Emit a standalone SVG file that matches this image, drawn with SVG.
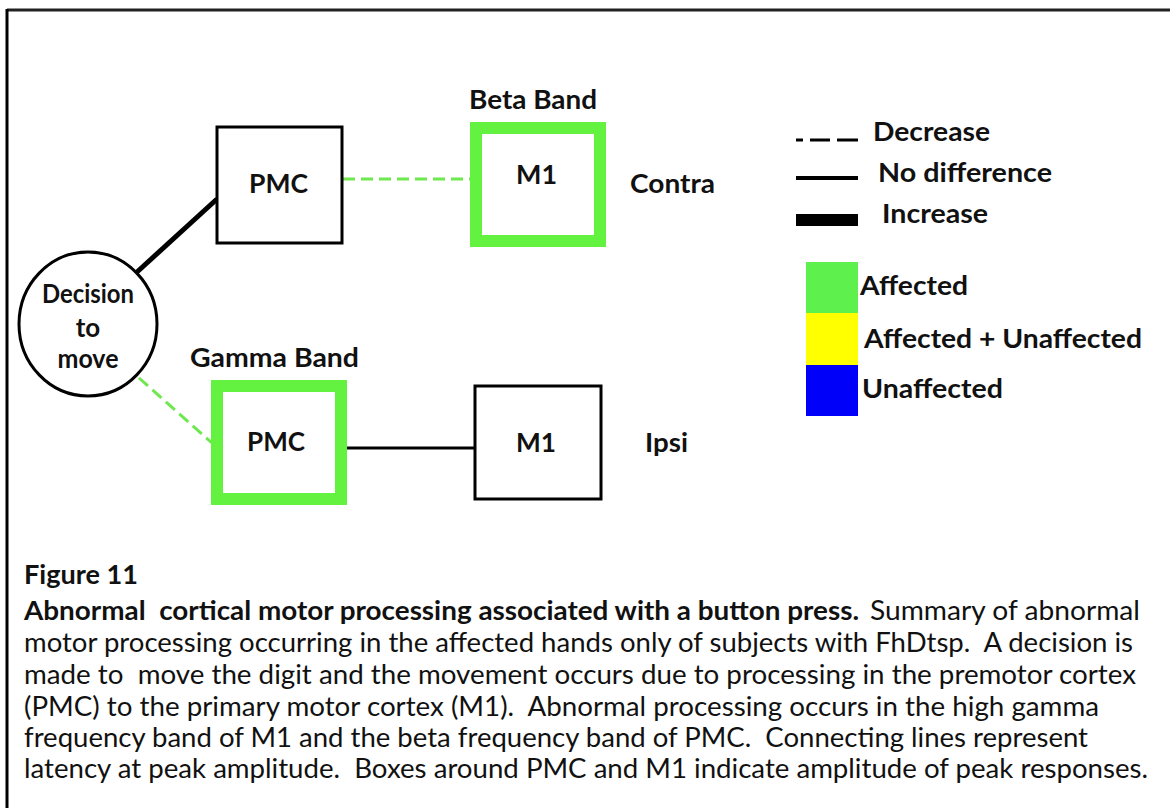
<svg xmlns="http://www.w3.org/2000/svg" width="1170" height="808" viewBox="0 0 1170 808">
<defs>
<style>
.lbl{font-family:Lato,"Liberation Sans",sans-serif;font-weight:bold;font-size:26px;fill:#111;}
.cap{font-family:Lato,"Liberation Sans",sans-serif;font-size:26px;fill:#111;white-space:pre;}
.capb{font-family:Lato,"Liberation Sans",sans-serif;font-size:26px;font-weight:bold;fill:#111;white-space:pre;}
.box{fill:#fff;stroke:#000;stroke-width:3;}
.gbox{fill:#fff;stroke:#63F23F;stroke-width:12;}
.dash{stroke:#6FE84F;stroke-width:3;stroke-dasharray:12 6;fill:none;}
.solid{stroke:#000;stroke-width:3;fill:none;}
</style>
</defs>
<rect x="0" y="0" width="1170" height="808" fill="#fff"/>
<g id="frame">
<line x1="7" y1="10" x2="1170" y2="10" stroke="#222" stroke-width="3"/>
<line x1="7" y1="9" x2="7" y2="808" stroke="#000" stroke-width="3"/>
</g>
<g id="connectors">
<line x1="137" y1="272" x2="217" y2="199" stroke="#000" stroke-width="5"/>
<line class="dash" x1="343" y1="179" x2="473" y2="179"/>
<line class="dash" x1="139" y1="378" x2="212" y2="443"/>
<line class="solid" x1="347" y1="448" x2="475" y2="448"/>
</g>
<g id="node-decision">
<ellipse cx="88" cy="324" rx="69" ry="72" fill="#fff" stroke="#000" stroke-width="3"/>
<text class="lbl" x="88" y="303" text-anchor="middle" font-size="24" textLength="92" lengthAdjust="spacingAndGlyphs">Decision</text>
<text class="lbl" x="88" y="337" text-anchor="middle" font-size="24">to</text>
<text class="lbl" x="88" y="368" text-anchor="middle" font-size="24" textLength="61" lengthAdjust="spacingAndGlyphs">move</text>
</g>
<g id="node-pmc-contra">
<rect class="box" x="217" y="127" width="125" height="116"/>
<text class="lbl" x="249" y="193" textLength="59" lengthAdjust="spacingAndGlyphs">PMC</text>
</g>
<g id="node-m1-contra">
<text class="lbl" x="469" y="109" textLength="128" lengthAdjust="spacingAndGlyphs">Beta Band</text>
<rect class="gbox" x="476" y="128" width="124" height="113"/>
<text class="lbl" x="516" y="184" textLength="41" lengthAdjust="spacingAndGlyphs">M1</text>
</g>
<g id="label-contra">
<text class="lbl" x="630" y="193" textLength="85" lengthAdjust="spacingAndGlyphs">Contra</text>
</g>
<g id="node-pmc-ipsi">
<text class="lbl" x="190" y="367" textLength="169" lengthAdjust="spacingAndGlyphs">Gamma Band</text>
<rect class="gbox" x="217" y="386" width="124" height="113"/>
<text class="lbl" x="247" y="451" textLength="58" lengthAdjust="spacingAndGlyphs">PMC</text>
</g>
<g id="node-m1-ipsi">
<rect class="box" x="475" y="386" width="126" height="113"/>
<text class="lbl" x="516" y="452" textLength="40" lengthAdjust="spacingAndGlyphs">M1</text>
</g>
<g id="label-ipsi">
<text class="lbl" x="645" y="452" textLength="43" lengthAdjust="spacingAndGlyphs">Ipsi</text>
</g>
<g id="legend">
<line x1="796" y1="140" x2="858" y2="140" stroke="#000" stroke-width="3" stroke-dasharray="7 7 20 7 21"/>
<text class="lbl" x="873" y="141" textLength="117" lengthAdjust="spacingAndGlyphs">Decrease</text>
<line x1="796" y1="178" x2="858" y2="178" stroke="#000" stroke-width="4"/>
<text class="lbl" x="878" y="182" textLength="174" lengthAdjust="spacingAndGlyphs">No difference</text>
<line x1="796" y1="220" x2="858" y2="220" stroke="#000" stroke-width="12"/>
<text class="lbl" x="882" y="223" textLength="106" lengthAdjust="spacingAndGlyphs">Increase</text>
<rect x="806" y="262" width="52" height="51" fill="#5EF04C"/>
<rect x="806" y="313" width="52" height="52" fill="#FFFF00"/>
<rect x="806" y="365" width="52" height="51" fill="#0000FA"/>
<text class="lbl" x="860" y="295" textLength="108" lengthAdjust="spacingAndGlyphs">Affected</text>
<text class="lbl" x="864" y="348" textLength="278" lengthAdjust="spacingAndGlyphs">Affected + Unaffected</text>
<text class="lbl" x="862" y="398" textLength="141" lengthAdjust="spacingAndGlyphs">Unaffected</text>
</g>
<g id="caption">
<text class="capb" x="24" y="584" textLength="114" lengthAdjust="spacingAndGlyphs">Figure 11</text>
<text class="capb" x="24" y="620" textLength="835" lengthAdjust="spacingAndGlyphs">Abnormal  cortical motor processing associated with a button press.</text>
<text class="cap" x="870" y="620" textLength="270" lengthAdjust="spacingAndGlyphs">Summary of abnormal</text>
<text class="cap" x="24" y="652" textLength="1109" lengthAdjust="spacingAndGlyphs">motor processing occurring in the affected hands only of subjects with FhDtsp.  A decision is</text>
<text class="cap" x="24" y="684" textLength="1112" lengthAdjust="spacingAndGlyphs">made to  move the digit and the movement occurs due to processing in the premotor cortex</text>
<text class="cap" x="24" y="716" textLength="1075" lengthAdjust="spacingAndGlyphs">(PMC) to the primary motor cortex (M1).  Abnormal processing occurs in the high gamma</text>
<text class="cap" x="24" y="747" textLength="1064" lengthAdjust="spacingAndGlyphs">frequency band of M1 and the beta frequency band of PMC.  Connecting lines represent</text>
<text class="cap" x="24" y="778" textLength="1124" lengthAdjust="spacingAndGlyphs">latency at peak amplitude.  Boxes around PMC and M1 indicate amplitude of peak responses.</text>
</g>
</svg>
